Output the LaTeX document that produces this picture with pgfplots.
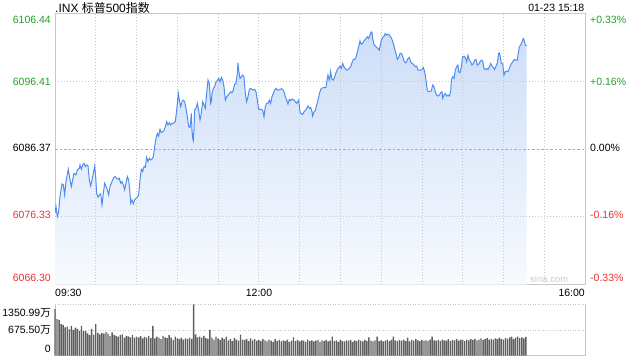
\documentclass[border=0pt]{standalone}
\usepackage{pgfplots}
\pgfplotsset{compat=1.18}
\usepackage{pgfplotstable}
\usepackage{fontspec}
\setmainfont{Liberation Sans}
\newfontfamily\cjk{Noto Sans CJK SC}
\definecolor{upg}{RGB}{34,160,40}
\definecolor{dnr}{RGB}{235,50,50}
\definecolor{lineb}{RGB}{80,140,240}
\definecolor{gridc}{RGB}{200,200,200}
\definecolor{framec}{RGB}{200,200,200}
\definecolor{volc}{RGB}{95,95,95}
\definecolor{filltop}{RGB}{205,222,248}
\definecolor{fillbot}{RGB}{247,250,254}

\pgfplotstableread{
t v
0 6076.86
0.74 6077.85
1.72 6076.37
2.70 6077.11
3.68 6079.33
5.15 6081.20
6.13 6081.06
7.11 6079.58
8.09 6081.55
9.81 6083.37
11.04 6081.79
12.02 6080.81
13.00 6081.79
13.98 6082.78
15.45 6082.53
16.43 6083.27
17.91 6083.52
18.40 6084.01
19.38 6083.37
20.36 6084.01
21.34 6084.26
22.32 6083.77
23.30 6084.01
24.28 6083.87
25.26 6081.79
26.24 6080.91
27.23 6081.79
28.21 6082.78
29.19 6083.87
29.92 6082.29
30.66 6079.82
31.64 6079.23
32.62 6079.58
33.60 6079.73
34.58 6078.10
35.57 6079.82
36.55 6081.30
37.53 6080.81
38.51 6080.32
39.49 6079.58
40.47 6080.81
41.45 6081.30
42.43 6081.79
43.41 6082.19
44.40 6082.29
45.38 6081.99
46.36 6081.89
47.34 6082.04
48.32 6081.30
49.30 6081.55
50.28 6081.06
51.26 6080.32
52.24 6081.30
53.23 6082.29
54.21 6081.79
55.19 6079.82
55.68 6078.34
56.66 6078.84
57.64 6078.25
58.62 6078.84
59.60 6079.08
60.58 6079.23
61.57 6079.58
62.55 6081.79
63.53 6083.37
64.51 6083.03
65.49 6083.77
66.47 6083.67
67.45 6085.14
68.43 6084.50
69.41 6085.00
70.40 6084.75
71.38 6084.85
72.36 6085.24
73.34 6086.72
74.32 6087.95
75.30 6088.69
76.28 6088.30
77.26 6089.29
78.24 6088.79
79.22 6088.94
80.21 6089.09
81.19 6089.68
82.17 6090.42
83.15 6089.93
84.13 6090.27
85.11 6089.93
86.09 6090.17
87.07 6090.17
88.54 6090.42
89.53 6092.14
90.75 6094.61
91.49 6093.62
92.47 6092.64
93.45 6093.38
94.43 6093.62
95.41 6093.38
96.39 6092.39
97.37 6091.16
98.36 6089.68
99.34 6089.58
99.83 6090.42
100.32 6091.65
100.81 6089.19
101.30 6087.95
101.79 6087.61
102.28 6089.19
102.77 6092.14
103.75 6092.39
104.73 6093.13
105.71 6092.14
106.70 6090.66
107.68 6091.65
108.66 6093.38
109.64 6092.88
110.62 6092.39
111.60 6094.61
112.58 6096.58
113.56 6096.09
114.54 6093.13
115.04 6093.38
115.53 6094.61
116.51 6095.35
117.49 6095.59
118.47 6096.33
119.45 6096.48
120.43 6096.82
121.41 6096.33
122.39 6096.97
123.37 6096.58
124.36 6095.59
125.34 6093.62
126.32 6094.11
127.30 6094.36
128.28 6094.61
129.26 6094.85
130.24 6094.70
131.22 6095.10
132.20 6095.99
133.18 6096.09
134.17 6097.56
134.66 6099.14
135.15 6098.06
136.13 6096.82
137.11 6097.07
138.09 6097.32
139.07 6097.07
140.05 6094.61
141.03 6093.38
142.01 6094.11
143.00 6095.20
143.98 6095.35
144.96 6095.20
145.94 6095.10
146.92 6095.20
147.90 6094.85
148.88 6093.62
149.86 6092.29
150.84 6092.24
151.83 6092.24
152.81 6092.14
153.79 6091.16
154.77 6092.64
155.75 6093.13
156.73 6093.13
157.71 6093.62
158.69 6093.13
159.67 6094.11
160.66 6094.61
161.64 6095.10
162.62 6095.35
163.60 6095.10
164.58 6095.10
165.56 6095.20
166.54 6095.30
167.52 6095.20
168.50 6094.85
169.49 6094.11
170.47 6093.62
171.45 6093.03
172.43 6093.72
173.41 6093.52
174.39 6093.77
175.86 6093.62
176.84 6093.38
177.83 6093.13
178.81 6093.47
179.30 6093.62
180.28 6091.90
181.26 6091.55
182.24 6091.50
183.22 6091.90
184.20 6092.05
185.18 6092.39
186.16 6092.74
187.15 6092.39
188.13 6092.54
189.11 6091.90
189.60 6091.26
190.58 6091.90
191.56 6092.05
192.54 6092.88
193.52 6093.62
194.50 6094.51
195.49 6095.20
196.47 6095.40
197.45 6095.45
198.43 6095.45
199.41 6095.49
200.39 6096.82
200.88 6097.32
201.86 6096.58
202.35 6096.97
202.84 6097.81
203.82 6096.68
204.81 6096.58
205.79 6097.07
206.77 6097.66
207.75 6098.16
208.73 6098.40
209.71 6098.65
210.69 6098.30
211.67 6099.04
212.65 6098.55
213.64 6098.30
214.62 6098.06
215.60 6098.16
216.58 6098.30
217.56 6098.55
218.54 6099.14
219.52 6099.63
220.50 6099.63
221.48 6099.93
222.47 6100.77
223.45 6101.51
224.43 6102.39
224.92 6102.00
225.90 6101.90
226.88 6102.25
227.86 6102.49
228.84 6102.74
229.82 6102.99
230.80 6102.74
231.79 6103.23
232.77 6103.72
233.26 6103.63
233.75 6102.74
234.73 6101.90
235.71 6101.61
236.69 6101.41
237.67 6101.26
238.65 6101.01
239.14 6101.51
240.12 6102.49
241.11 6102.89
242.09 6103.08
243.07 6103.48
244.05 6103.23
245.03 6103.38
246.01 6103.23
246.99 6102.99
247.97 6102.59
248.96 6102.00
249.94 6101.26
250.92 6100.52
251.90 6099.63
252.88 6099.93
253.86 6100.52
254.84 6100.52
255.82 6100.13
256.80 6099.44
257.79 6099.14
258.77 6099.29
259.75 6099.78
260.73 6099.93
261.71 6099.29
262.69 6099.04
263.67 6098.94
265.14 6098.55
266.13 6098.65
267.11 6098.06
268.09 6098.06
269.07 6098.06
270.05 6098.15
271.03 6098.45
272.01 6097.81
272.99 6096.58
273.97 6095.00
274.96 6094.85
275.94 6094.85
276.92 6095.00
277.90 6095.84
278.88 6095.59
279.86 6094.85
280.84 6094.36
281.82 6094.21
282.80 6094.36
283.79 6094.70
284.77 6094.85
285.26 6093.87
286.24 6094.36
287.22 6094.61
288.20 6094.21
289.18 6094.36
290.16 6094.21
291.14 6094.85
291.63 6096.58
292.62 6097.07
293.60 6096.82
294.58 6098.06
295.56 6098.55
296.54 6098.80
297.03 6097.81
298.01 6097.66
298.99 6098.55
299.97 6100.03
300.95 6100.13
301.94 6099.93
302.92 6099.29
303.90 6100.27
304.88 6099.53
305.86 6099.29
306.84 6098.80
307.82 6099.04
308.80 6099.53
309.78 6099.63
310.77 6098.80
311.75 6098.94
312.73 6099.29
313.71 6099.53
314.69 6099.44
315.67 6098.30
316.65 6098.15
317.63 6098.30
318.61 6098.15
319.60 6098.55
320.58 6099.04
321.56 6098.65
322.54 6098.45
323.52 6098.15
324.50 6098.65
325.48 6099.14
326.46 6100.52
326.95 6100.62
327.44 6100.27
328.43 6099.04
329.41 6099.04
330.39 6097.32
331.37 6097.81
332.35 6097.91
333.33 6097.81
334.31 6098.30
335.29 6098.80
336.27 6099.14
337.26 6099.44
338.24 6099.63
339.22 6099.53
340.20 6099.53
340.69 6100.27
341.67 6101.51
342.65 6101.75
343.63 6102.25
344.61 6102.74
345.10 6102.59
346.08 6101.75
347.06 6101.65
}\price

\begin{document}
\begin{tikzpicture}
\useasboundingbox (0pt,0pt) rectangle (640pt,360pt);
% ---------- price panel ----------
\begin{axis}[
  at={(55pt,75.5pt)}, anchor=south west,
  scale only axis, width=530pt, height=271pt,
  xmin=0, xmax=390, ymin=6066.30, ymax=6106.44,
  xtick=\empty, ytick=\empty,
  axis line style={framec, line width=0.8pt},
  clip=true,
]
\addplot[draw=none, top color=filltop, bottom color=fillbot]
  table[x=t, y=v] {\price} |- (axis cs:0,6066.30) -- cycle;
\pgfplotsinvokeforeach{30,60,90,120,150,180,210,240,270,300,330,360}{
  \draw[gridc, line width=0.7pt, dash pattern=on 1pt off 2pt]
    (axis cs:#1,6066.30) -- (axis cs:#1,6106.44);
}
\draw[gridc, line width=0.7pt, dash pattern=on 1pt off 2pt]
  (axis cs:0,6096.41) -- (axis cs:390,6096.41);
\draw[gridc, line width=0.7pt, dash pattern=on 1pt off 2pt]
  (axis cs:0,6076.33) -- (axis cs:390,6076.33);
\draw[gray!65, line width=0.7pt, dash pattern=on 2.5pt off 2pt]
  (axis cs:0,6086.37) -- (axis cs:390,6086.37);
\addplot[lineb, line width=1pt] table[x=t, y=v] {\price};
\end{axis}
% ---------- volume panel ----------
\begin{axis}[
  at={(55pt,4.5pt)}, anchor=south west,
  scale only axis, width=530pt, height=51.2pt,
  xmin=0, xmax=390, ymin=0, ymax=1350.99,
  hide axis, clip=false,
]
\draw[gridc, line width=0.7pt, dash pattern=on 1pt off 1.5pt]
  (axis cs:0,1350.99) -- (axis cs:390,1350.99);
\draw[gridc, line width=0.7pt, dash pattern=on 1pt off 1.5pt]
  (axis cs:0,675.50) -- (axis cs:390,675.50);
\draw[framec, line width=0.8pt] (axis cs:0,1350.99) -- (axis cs:0,0) -- (axis cs:390,0) -- (axis cs:390,1350.99);
\addplot[ybar, bar width=1.4pt, fill=volc, draw=none] coordinates {
(0,1227)(1.5,960)(3,940)(4.5,830)(6,805)(7.5,745)(9,760)(10.5,690)(12,780)(13.5,675)
(15,735)(16.5,700)(18,650)(19.5,780)(21,645)(22.5,640)(24,585)(25.5,540)(27,700)(28.5,550)
(30,830)(31.5,600)(33,560)(34.5,600)(36,580)(37.5,620)(39,575)(40.5,520)(42,610)(43.5,545)
(45,520)(46.5,500)(48,540)(49.5,560)(51,470)(52.5,520)(54,505)(55.5,480)(57,540)(58.5,470)
(60,500)(61.5,480)(63,510)(64.5,455)(66,490)(67.5,470)(69,520)(70.5,460)(72,780)(73.5,450)
(75,500)(76.5,470)(78,430)(79.5,520)(81,480)(82.5,460)(84,540)(85.5,470)(87,410)(88.5,500)
(90,455)(91.5,430)(93,470)(94.5,420)(96,450)(97.5,430)(99,470)(100.5,440)(102,1351)(103.5,560)
(105,480)(106.5,500)(108,470)(109.5,520)(111,460)(112.5,440)(114,673)(115.5,470)(117,420)(118.5,500)
(120,450)(121.5,410)(123,470)(124.5,430)(126,500)(127.5,400)(129,440)(130.5,380)(132,460)(133.5,420)
(135,390)(136.5,550)(138,420)(139.5,410)(141,440)(142.5,380)(144,450)(145.5,400)(147,430)(148.5,390)
(150,410)(151.5,380)(153,430)(154.5,400)(156,370)(157.5,420)(159,390)(160.5,360)(162,430)(163.5,380)
(165,410)(166.5,370)(168,400)(169.5,380)(171,420)(172.5,360)(174,390)(175.5,480)(177,380)(178.5,410)
(180,370)(181.5,400)(183,390)(184.5,360)(186,420)(187.5,380)(189,400)(190.5,370)(192,390)(193.5,410)
(195,350)(196.5,400)(198,380)(199.5,410)(201,370)(202.5,390)(204,500)(205.5,380)(207,400)(208.5,360)
(210,420)(211.5,380)(213,370)(214.5,400)(216,390)(217.5,410)(219,360)(220.5,400)(222,380)(223.5,420)
(225,390)(226.5,370)(228,410)(229.5,380)(231,480)(232.5,390)(234,370)(235.5,400)(237,500)(238.5,380)
(240,400)(241.5,370)(243,390)(244.5,420)(246,380)(247.5,410)(249,500)(250.5,400)(252,380)(253.5,410)
(255,390)(256.5,420)(258,380)(259.5,470)(261,370)(262.5,410)(264,390)(265.5,430)(267,400)(268.5,380)
(270,410)(271.5,390)(273,400)(274.5,380)(276,420)(277.5,500)(279,400)(280.5,390)(282,410)(283.5,380)
(285,420)(286.5,400)(288,390)(289.5,430)(291,380)(292.5,410)(294,400)(295.5,440)(297,390)(298.5,420)
(300,410)(301.5,380)(303,420)(304.5,400)(306,430)(307.5,410)(309,440)(310.5,400)(312,420)(313.5,450)
(315,410)(316.5,430)(318,460)(319.5,420)(321,440)(322.5,420)(324,450)(325.5,430)(327,470)(328.5,440)
(330,420)(331.5,460)(333,440)(334.5,480)(336,500)(337.5,430)(339,470)(340.5,500)(342,460)(343.5,480)
(345,450)(346.5,490)
};
\end{axis}
% ---------- texts ----------
\begin{scope}[every node/.style={inner sep=0pt, font=\fontsize{10.5}{12}\selectfont}]
\node[anchor=west, font=\fontsize{12}{14}\selectfont] at (55pt,351.7pt) {.INX {\cjk 标普}500{\cjk 指数}};
\node[anchor=east] at (584.5pt,352pt) {01-23 15:18};
\node[anchor=east, text=upg] at (51pt,340pt) {6106.44};
\node[anchor=east, text=upg] at (51pt,278pt) {6096.41};
\node[anchor=east, text=black] at (51pt,212pt) {6086.37};
\node[anchor=east, text=dnr] at (51pt,145pt) {6076.33};
\node[anchor=east, text=dnr] at (51pt,82pt) {6066.30};
\node[anchor=west, text=upg] at (590pt,340pt) {+0.33\%};
\node[anchor=west, text=upg] at (590pt,278pt) {+0.16\%};
\node[anchor=west, text=black] at (590pt,212pt) {0.00\%};
\node[anchor=west, text=dnr] at (590pt,145pt) {-0.16\%};
\node[anchor=west, text=dnr] at (590pt,82pt) {-0.33\%};
\node[anchor=west] at (55pt,66.7pt) {09:30};
\node[anchor=center] at (259pt,66.7pt) {12:00};
\node[anchor=east] at (585pt,66.7pt) {16:00};
\node[anchor=west, text=gray!40, font=\fontsize{9.5}{11}\selectfont] at (530pt,80.5pt) {sina.com};
\node[anchor=east] at (51pt,47.3pt) {1350.99{\cjk 万}};
\node[anchor=east] at (51pt,30pt) {675.50{\cjk 万}};
\node[anchor=east] at (51pt,11.3pt) {0};
\end{scope}
\end{tikzpicture}
\end{document}
